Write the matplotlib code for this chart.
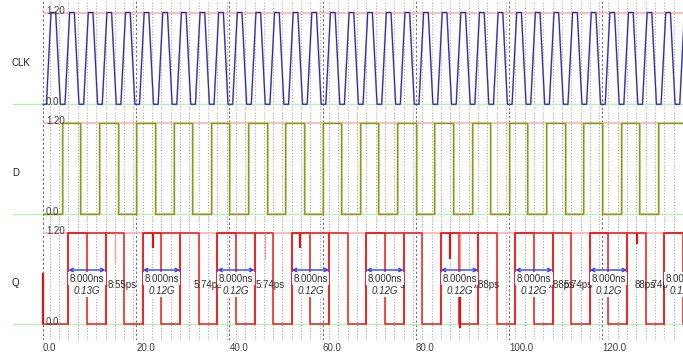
import numpy as np
import matplotlib.pyplot as plt

plt.rcParams['font.family'] = ['Liberation Sans', 'DejaVu Sans']

# time window (ns) and axis labels
t_min, t_max = -9.26, 137.4
x_ticks = [0, 20, 40, 60, 80, 100, 120]
x_tick_labels = ['0.0', '20.0', '40.0', '60.0', '80.0', '100.0', '120.0']
signal_names = ['CLK', 'D', 'Q']

# CLK: one period of the trapezoid (ns, V), repeated
clk_period = 4.0
clk_n_periods = 35
clk_shape_t = [0.0, 0.7, 1.7, 2.7, 3.7]
clk_shape_v = [0.0, 0.0, 1.2, 1.2, 0.0]

# D: starts low, toggles at these times (ns)
d_edges = [4, 8, 12, 16, 20, 24, 28, 32, 36, 40, 44, 48, 52, 56, 60, 64, 68,
           72, 76, 80, 84, 88, 92, 96, 100, 104, 108, 112, 116, 120, 124,
           128, 132]

# Q: starts low, toggles at these times (ns)
q_edges = [5.4, 9.4, 13.4, 17.4, 21.4, 25.4, 29.4, 33.4, 37.4, 41.4, 45.4,
           49.4, 53.4, 57.4, 61.4, 65.4, 69.4, 73.4, 77.4, 81.4, 85.4, 89.4,
           93.4, 97.4, 101.4, 105.4, 109.4, 113.4, 117.4, 121.4, 125.4,
           129.4, 133.4]
# second Q trace: 8 ns wide pulses starting at
q2_starts = [5.4, 21.4, 37.4, 53.4, 69.4, 85.4, 101.4, 117.4, 133.4]
q2_width = 8.0

# glitches on Q (time, from, to, strong)
q_glitch_t = [-0.05, 15.4, 23.7, 47.7, 55.2, 87.4, 89.5, 89.5, 127.5]
q_glitch_lo = [0.0, 0.80, 1.00, 0.85, 1.00, 0.86, -0.05, 0.67, 1.05]
q_glitch_hi = [0.67, 1.20, 1.20, 1.20, 1.20, 1.20, 0.50, 1.20, 1.20]
q_glitch_strong = [1, 0, 1, 0, 1, 1, 1, 0, 1]

# period / frequency measurements
meas_start = [5.4, 21.4, 37.4, 53.4, 69.4, 85.4, 101.4, 117.4, 133.4]
meas_period = ['8.000ns'] * 9
meas_freq = ['0.13G', '0.12G', '0.12G', '0.12G', '0.12G', '0.12G', '0.12G',
             '0.12G', '0.12G']
# leftover overlapping labels between measurements (left time, text)
extra_t = [13.9, 32.2, 45.7, 71.5, 91.8, 107.8, 111.7, 127.1, 130.2]
extra_txt = ['8:55ps', '5:74ps', '5:74ps', '5:74ps', '8:88ps', '8:88ps',
             '5:74ps', '88ps', ':74ps']


def step_xy(edges, t_end):
    xs = [0.0]
    ys = [0.0]
    v = 0.0
    for e in edges:
        xs.append(e)
        ys.append(v)
        v = 1.2 - v
        xs.append(e)
        ys.append(v)
    xs.append(t_end)
    ys.append(v)
    return xs, ys


fig = plt.figure(figsize=(6.83, 3.52), dpi=100)
H = 352.0
top_off = 12.5            # px from band top to 1.20 line
pxv = 91.8 / 1.2          # px per volt
bands = [(0, 110), (110, 220), (220, 340)]

axes = []
for i, (b0, b1) in enumerate(bands):
    ax = fig.add_axes([0, 1 - b1 / H, 1, (b1 - b0) / H])
    ax.set_xlim(t_min, t_max)
    ax.set_ylim(1.2 - (b1 - b0 - top_off) / pxv, 1.2 + top_off / pxv)
    for s in ax.spines.values():
        s.set_visible(False)
    ax.set_yticks([])
    ax.set_xticks([])
    for tc in np.arange(1.4, t_max, 2.0):
        ax.axvline(tc, color='#a9a9a9', lw=0.8, dashes=(1, 1.6), zorder=1)
    for tk in x_ticks:
        ax.axvline(tk, color='#6e6e6e', lw=0.8, dashes=(2, 2), zorder=1)
    ax.hlines(1.2, 0, t_max, color='#ffb0b0', lw=1.2, zorder=2)
    ax.hlines(0.0, -6.7, t_max, color='#b8f0b8', lw=1.0, zorder=2)
    ax.text(0.62, 1.22, '1.20', fontsize=7, color='#404040', va='center',
            ha='left', zorder=6)
    ax.text(0.45, 0.035, '0.0', fontsize=7, color='#404040', va='center',
            ha='left', zorder=6)
    ax.text(-6.7, 0.54, signal_names[i], fontsize=7, color='#202020',
            va='center', ha='left')
    axes.append(ax)

ax_clk, ax_d, ax_q = axes

# CLK
clk_t = []
clk_v = []
for k in range(clk_n_periods):
    for st, sv in zip(clk_shape_t, clk_shape_v):
        clk_t.append(k * clk_period + st)
        clk_v.append(sv)
ax_clk.plot(clk_t, clk_v, color='#a8a8e0', lw=1.3, zorder=3)
ax_clk.plot(clk_t, clk_v, color='#2a2a92', lw=0.75, zorder=4)

# D
dx, dy = step_xy(d_edges, t_max)
ax_d.plot(np.array(dx) + 0.2, dy, color='#cfcf95', lw=1.4, zorder=3)
ax_d.plot(dx, dy, color='#8c9a1c', lw=1.0, zorder=4)

# Q
qx, qy = step_xy(q_edges, t_max)
ax_q.plot(qx, qy, color='#f01c1c', lw=1.1, zorder=4)
for s in q2_starts:
    e = min(s + q2_width, t_max)
    ax_q.plot([s, s, e, e], [0, 1.2, 1.2, 0], color='#f01c1c', lw=1.1,
              zorder=4)
for gt, lo, hi, st in zip(q_glitch_t, q_glitch_lo, q_glitch_hi,
                          q_glitch_strong):
    ax_q.vlines(gt, lo, hi, color='#e01010' if st else '#f5a0a0',
                lw=1.6 if st else 1.0, zorder=4)

for et, tx in zip(extra_t, extra_txt):
    ax_q.text(et, 0.515, tx, fontsize=7, color='#303030', va='center',
              ha='left', zorder=5)

for s, p, f in zip(meas_start, meas_period, meas_freq):
    mid = s + 4.0
    ax_q.text(mid, 0.595, p, fontsize=7, color='#303030', ha='center',
              va='center', zorder=7,
              bbox=dict(facecolor='white', edgecolor='none', pad=1.2))
    ax_q.text(mid, 0.44, f, fontsize=7, color='#303030', ha='center',
              va='center', style='italic', zorder=7,
              bbox=dict(facecolor='white', edgecolor='none', pad=1.2))
    ax_q.annotate('', xy=(s + 8.0, 0.71), xytext=(s, 0.71), zorder=8,
                  arrowprops=dict(arrowstyle='<->', color='#2a3cff', lw=1.0,
                                  shrinkA=0, shrinkB=0, mutation_scale=6))

ax_q.set_xticks(x_ticks)
ax_q.set_xticklabels(x_tick_labels, ha='left')
ax_q.tick_params(axis='x', length=0, pad=2, labelsize=7, labelcolor='#404040')

fig.savefig('out.png', dpi=100)
